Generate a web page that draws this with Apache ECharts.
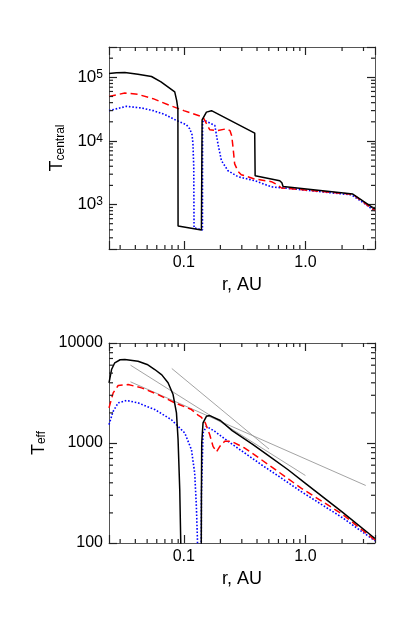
<!DOCTYPE html>
<html>
<head>
<meta charset="utf-8">
<script src="https://cdn.jsdelivr.net/npm/echarts@6/dist/echarts.min.js"></script>
<style>
  html, body { margin: 0; padding: 0; background: #fff; }
  #main { width: 415px; height: 623px; }
</style>
</head>
<body>
<div id="main"></div>
<script>
// central temperature vs r (AU), top panel
const topBlack = [[0.0243, 1.15e5], [0.028, 1.18e5], [0.0328, 1.19e5], [0.042, 1.12e5], [0.0543, 1.03e5],
  [0.065, 8.5e4], [0.0843, 5.9e4], [0.0875, 4.3e4], [0.0895, 3.2e4], [0.0898, 461], [0.1397, 398],
  [0.1415, 2.15e4], [0.1536, 2.84e4], [0.169, 2.99e4], [0.383, 1.33e4], [0.386, 2840], [0.39, 2740],
  [0.615, 2370], [0.64, 2200], [0.655, 1920], [2.45, 1460], [3.73, 846]];
const topRed = [[0.0243, 5.0e4], [0.0328, 5.67e4], [0.042, 5.4e4], [0.056, 4.62e4], [0.0767, 3.62e4],
  [0.1, 3.0e4], [0.1193, 2.68e4], [0.144, 2.37e4], [0.1635, 1.5e4], [0.186, 1.45e4], [0.224, 1.55e4],
  [0.24, 1.45e4], [0.248, 1.2e4], [0.254, 7950], [0.262, 4350], [0.28, 3300], [0.297, 2950],
  [0.383, 2520], [0.525, 2290], [0.6, 2000], [0.635, 1820], [0.8, 1760], [2.45, 1450], [3.73, 800]];
const topBlue = [[0.0243, 3.0e4], [0.0338, 3.5e4], [0.045, 3.3e4], [0.056, 3.0e4], [0.07, 2.6e4],
  [0.087, 2.1e4], [0.105, 1.8e4], [0.112, 1.55e4], [0.117, 1.25e4], [0.119, 9000], [0.1208, 4000],
  [0.1215, 430], [0.1424, 398], [0.1428, 2.0e4], [0.149, 2.1e4], [0.18, 1.75e4], [0.191, 9000],
  [0.204, 4900], [0.231, 3400], [0.279, 2740], [0.383, 2370], [0.525, 1900], [0.816, 1750],
  [2.39, 1420], [2.98, 1076], [3.73, 780]];

// effective temperature vs r (AU), bottom panel
const botBlack = [[0.0243, 4000], [0.0255, 5430], [0.0271, 6340], [0.03, 6800], [0.0328, 6850],
  [0.0421, 6580], [0.05, 6100], [0.0578, 5430], [0.066, 4800], [0.0743, 4000], [0.0817, 3050],
  [0.0871, 2000], [0.0898, 1080], [0.0927, 340], [0.0945, 100], [0.095, 40], [0.139, 40],
  [0.1397, 300], [0.1405, 1000], [0.144, 1590], [0.1536, 1850], [0.1635, 1880], [0.2, 1680],
  [0.25, 1330], [0.371, 962], [0.5, 745], [0.72, 540], [1.0, 395], [2.0, 205], [3.73, 111]];
const botRed = [[0.0243, 2245], [0.0263, 3170], [0.0289, 3760], [0.0349, 3840], [0.0449, 3560],
  [0.0615, 3050], [0.0843, 2520], [0.1157, 2160], [0.131, 1900], [0.14, 1800], [0.15, 1600],
  [0.1635, 1210], [0.174, 925], [0.186, 815], [0.198, 925], [0.217, 1040], [0.246, 1040],
  [0.317, 891], [0.435, 680], [0.595, 519], [0.922, 354], [2.0, 195], [3.73, 107]];
const botBlue = [[0.0243, 1527], [0.0263, 2075], [0.0289, 2520], [0.0338, 2660], [0.0421, 2520],
  [0.0578, 2160], [0.0792, 1710], [0.1019, 1260], [0.1157, 857], [0.123, 500], [0.127, 231],
  [0.1296, 107], [0.131, 40], [0.139, 40], [0.1397, 300], [0.144, 1260], [0.1536, 1468],
  [0.18, 1308], [0.231, 1040], [0.317, 794], [0.435, 606], [0.595, 470], [0.922, 327],
  [2.0, 180], [3.73, 105]];
// thin grey power-law guides
const guide1 = [[0.0365, 6000], [1.0, 473]];
const guide2 = [[0.0365, 4090], [3.13, 376]];
const guide3 = [[0.0797, 5560], [0.502, 870]];

const xRange = [0.0243, 3.73];
const topYRange = [200, 3e5];
const botYRange = [100, 10000];

const FONT = 'Liberation Sans';
const FRAME_COLOR = '#555';
const TICK_COLOR = '#222';
const MAJOR_LEN = 8;
const MINOR_LEN = 4;

function isDecade(v) {
  const e = Math.log10(v);
  return Math.abs(e - Math.round(e)) < 1e-6;
}

function xLabel(v) {
  if (!isDecade(v)) return '';
  const e = Math.round(Math.log10(v));
  return e < 0 ? Math.pow(10, e).toFixed(-e) : Math.pow(10, e).toFixed(1);
}

function logAxis(grid, pos, range, labelFn, extra) {
  return Object.assign({
    type: 'log',
    gridIndex: grid,
    position: pos,
    min: range[0],
    max: range[1],
    splitLine: { show: false },
    axisLine: { show: true, onZero: false, lineStyle: { color: FRAME_COLOR, width: 1 } },
    axisTick: { show: true, inside: true, length: MAJOR_LEN, lineStyle: { color: TICK_COLOR, width: 1.2 } },
    axisLabel: {
      show: !!labelFn,
      formatter: labelFn,
      color: '#000',
      fontFamily: FONT,
      fontSize: 16,
      margin: 6
    }
  }, extra || {});
}

const subRich = {
  t: { fontFamily: FONT, fontSize: 18, lineHeight: 18, verticalAlign: 'top', color: '#000' },
  sub: { fontFamily: FONT, fontSize: 12, lineHeight: 12, verticalAlign: 'bottom', padding: [10, 0, 0, 0], color: '#000' }
};
const xName = {
  name: 'r, AU', nameLocation: 'middle', nameGap: 27,
  nameTextStyle: { color: '#000', fontFamily: FONT, fontSize: 18 }
};

// minor tick values 2..9 x 10^n inside a range
function minorValues(range) {
  const out = [];
  for (let d = Math.floor(Math.log10(range[0])); d <= Math.ceil(Math.log10(range[1])); d++) {
    for (let k = 2; k <= 9; k++) {
      const v = k * Math.pow(10, d);
      if (v > range[0] && v < range[1]) out.push(v);
    }
  }
  return out;
}

// custom series drawing minor ticks on all four sides through the axis scales
function minorTickSeries(xi, yi, yr) {
  const data = minorValues(xRange).map(function (v) { return [v, yr[0], 0]; })
    .concat(minorValues(yr).map(function (v) { return [xRange[0], v, 1]; }));
  return {
    type: 'custom',
    xAxisIndex: xi,
    yAxisIndex: yi,
    silent: true,
    clip: false,
    z: 10,
    data: data,
    renderItem: function (params, api) {
      const kind = api.value(2);
      const st = { stroke: TICK_COLOR, lineWidth: 1.2 };
      let a, b;
      if (kind === 0) {
        const v = api.value(0);
        a = api.coord([v, yr[0]]);
        b = api.coord([v, yr[1]]);
        return { type: 'group', children: [
          { type: 'line', shape: { x1: a[0], y1: a[1], x2: a[0], y2: a[1] - MINOR_LEN }, style: st },
          { type: 'line', shape: { x1: b[0], y1: b[1], x2: b[0], y2: b[1] + MINOR_LEN }, style: st }
        ] };
      }
      const v = api.value(1);
      a = api.coord([xRange[0], v]);
      b = api.coord([xRange[1], v]);
      return { type: 'group', children: [
        { type: 'line', shape: { x1: a[0], y1: a[1], x2: a[0] + MINOR_LEN, y2: a[1] }, style: st },
        { type: 'line', shape: { x1: b[0], y1: b[1], x2: b[0] - MINOR_LEN, y2: b[1] }, style: st }
      ] };
    }
  };
}

const option = {
  animation: false,
  backgroundColor: '#fff',
  grid: [
    { left: 109, top: 47, width: 266, height: 202 },
    { left: 109, top: 343, width: 266, height: 200 }
  ],
  xAxis: [
    logAxis(0, 'bottom', xRange, xLabel, xName),
    logAxis(0, 'top', xRange, null),
    logAxis(1, 'bottom', xRange, xLabel, xName),
    logAxis(1, 'top', xRange, null)
  ],
  yAxis: [
    logAxis(0, 'left', topYRange, function (v) {
      if (!isDecade(v)) return '';
      return '{n|10}{sup|' + Math.round(Math.log10(v)) + '}';
    }, {
      name: '{t|T}{sub|central}', nameLocation: 'middle', nameGap: 39,
      nameTextStyle: { rich: subRich }
    }),
    logAxis(0, 'right', topYRange, null),
    logAxis(1, 'left', botYRange, function (v) {
      return isDecade(v) ? String(Math.round(v)) : '';
    }, {
      name: '{t|T}{sub|eff}', nameLocation: 'middle', nameGap: 49,
      nameTextStyle: { rich: subRich }
    }),
    logAxis(1, 'right', botYRange, null)
  ],
  series: []
};

// rich text for the 10^n tick labels
option.yAxis[0].axisLabel.rich = {
  n: { fontFamily: FONT, fontSize: 17, lineHeight: 17, verticalAlign: 'bottom', color: '#000' },
  sup: { fontFamily: FONT, fontSize: 12, lineHeight: 12, verticalAlign: 'top', padding: [0, 0, 7, 0], color: '#000' }
};

function line(name, data, xi, yi, color, width, type, z) {
  return {
    name: name,
    type: 'line',
    xAxisIndex: xi,
    yAxisIndex: yi,
    data: data,
    showSymbol: false,
    symbol: 'none',
    clip: true,
    z: z || 2,
    lineStyle: { color: color, width: width, type: type }
  };
}

option.series.push(
  minorTickSeries(0, 0, topYRange),
  minorTickSeries(2, 2, botYRange),
  line('topBlue', topBlue, 0, 0, '#0000ff', 1.6, [1.6, 1.8], 2),
  line('topRed', topRed, 0, 0, '#ff0000', 1.5, [7, 4], 3),
  line('topBlack', topBlack, 0, 0, '#000', 1.5, 'solid', 4),
  line('guide1', guide1, 2, 2, '#8c8c8c', 0.8, 'solid', 1),
  line('guide2', guide2, 2, 2, '#8c8c8c', 0.8, 'solid', 1),
  line('guide3', guide3, 2, 2, '#8c8c8c', 0.8, 'solid', 1),
  line('botBlue', botBlue, 2, 2, '#0000ff', 1.6, [1.6, 1.8], 2),
  line('botRed', botRed, 2, 2, '#ff0000', 1.5, [7, 4], 3),
  line('botBlack', botBlack, 2, 2, '#000', 1.5, 'solid', 4)
);

const myChart = echarts.init(document.getElementById('main'));
myChart.setOption(option);
</script>
</body>
</html>
